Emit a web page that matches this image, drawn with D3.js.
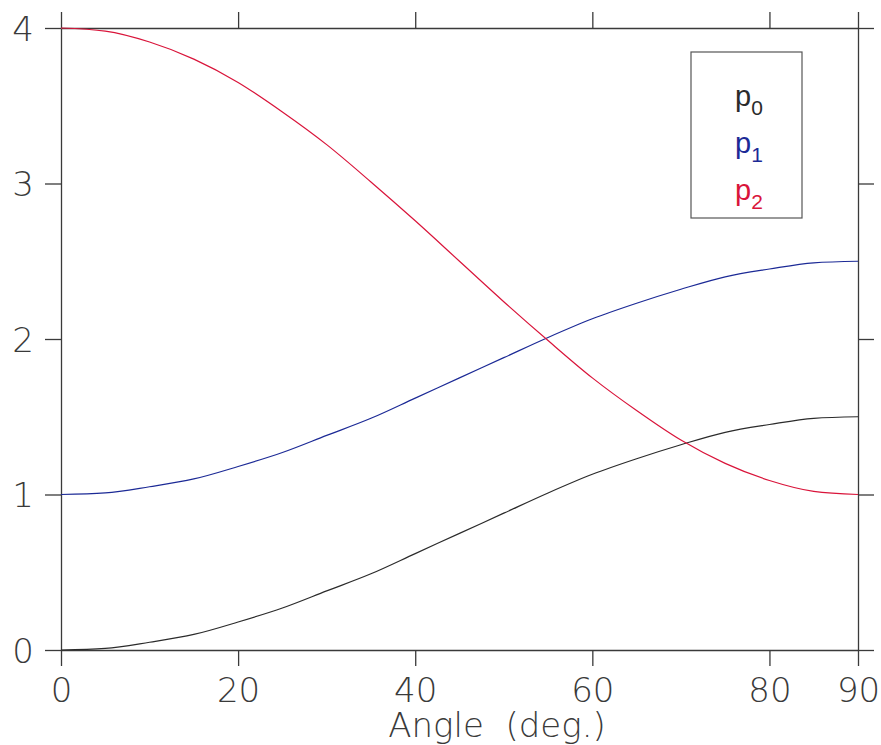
<!DOCTYPE html>
<html>
<head>
<meta charset="utf-8">
<script src="https://cdn.jsdelivr.net/npm/d3@7"></script>
<style>
  html, body { margin: 0; padding: 0; background: #fff; }
  svg { display: block; }
  .tick-label { font-family: "DejaVu Sans", sans-serif; font-weight: 200; fill: #3a3a3a; }
  .legend-label { font-family: "Liberation Sans", Arial, sans-serif; }
</style>
</head>
<body>
<svg id="chart" width="881" height="745"></svg>
<script>
// Angle in degrees, sampled every 5°
const angles = [0, 5, 10, 15, 20, 25, 30, 35, 40, 45, 50, 55, 60, 65, 70, 75, 80, 85, 90];
const p0 = [0.00, 0.01, 0.05, 0.10, 0.18, 0.27, 0.38, 0.49, 0.62, 0.75, 0.88, 1.01, 1.13, 1.23, 1.32, 1.40, 1.45, 1.49, 1.50];
const p1 = [1.00, 1.01, 1.05, 1.10, 1.18, 1.27, 1.38, 1.49, 1.62, 1.75, 1.88, 2.01, 2.13, 2.23, 2.32, 2.40, 2.45, 2.49, 2.50];
const p2 = [4.00, 3.98, 3.91, 3.80, 3.65, 3.46, 3.25, 3.01, 2.76, 2.50, 2.24, 1.99, 1.75, 1.54, 1.35, 1.20, 1.09, 1.02, 1.00];

const seriesNames = ["p", "p", "p"];
const seriesSubs = ["0", "1", "2"];
const seriesColors = ["#2b2b2b", "#1c2a96", "#d9143a"];
const seriesValues = [p0, p1, p2];

const xTicks = [0, 20, 40, 60, 80, 90];
const yTicks = [0, 1, 2, 3, 4];
const xTitle = "Angle  (deg.)";

const svg = d3.select("#chart");
const plotLeft = 61, plotRight = 858, plotTop = 28, plotBottom = 650;

const x = d3.scaleLinear().domain([0, 90]).range([plotLeft, plotRight]);
const y = d3.scaleLinear().domain([0, 4]).range([plotBottom, plotTop]);

const axisColor = "#3a3a3a";
const tickLen = 16;

function styleAxis(g) {
  g.selectAll("path.domain").attr("stroke", axisColor).attr("stroke-width", 1.3);
  g.selectAll(".tick line").attr("stroke", axisColor).attr("stroke-width", 1.3);
}

// Bottom axis with labels
const gB = svg.append("g").attr("transform", `translate(0,${plotBottom})`)
  .call(d3.axisBottom(x).tickValues(xTicks).tickSize(tickLen).tickSizeOuter(0).tickFormat(d3.format("d")));
styleAxis(gB);
gB.selectAll(".tick text").attr("class", "tick-label").attr("font-size", 34)
  .attr("dy", null).attr("y", 52).attr("fill", axisColor);

// Top axis (ticks only)
const gT = svg.append("g").attr("transform", `translate(0,${plotTop})`)
  .call(d3.axisTop(x).tickValues(xTicks).tickSize(tickLen).tickSizeOuter(0).tickFormat(""));
styleAxis(gT);

// Left axis with labels
const gL = svg.append("g").attr("transform", `translate(${plotLeft},0)`)
  .call(d3.axisLeft(y).tickValues(yTicks).tickSize(tickLen).tickSizeOuter(0).tickFormat(d3.format("d")));
styleAxis(gL);
gL.selectAll(".tick text").attr("class", "tick-label").attr("font-size", 34)
  .attr("x", -27).attr("dy", "0.36em").attr("fill", axisColor);

// Right axis (ticks only)
const gR = svg.append("g").attr("transform", `translate(${plotRight},0)`)
  .call(d3.axisRight(y).tickValues(yTicks).tickSize(tickLen).tickSizeOuter(0).tickFormat(""));
styleAxis(gR);

// Axis title
svg.append("text").attr("class", "tick-label")
  .attr("x", 497).attr("y", 737)
  .attr("text-anchor", "middle").attr("font-size", 34)
  .attr("xml:space", "preserve").style("white-space", "pre")
  .text(xTitle);

// Curves
const line = d3.line()
  .x((d, i) => x(angles[i]))
  .y(d => y(d))
  .curve(d3.curveMonotoneX);

seriesValues.forEach((vals, k) => {
  svg.append("path").datum(vals)
    .attr("d", line)
    .attr("fill", "none")
    .attr("stroke", seriesColors[k])
    .attr("stroke-width", 1.2);
});

// Legend
const lg = svg.append("g");
lg.append("rect").attr("x", 691).attr("y", 52).attr("width", 111).attr("height", 166)
  .attr("fill", "#fff").attr("stroke", "#555").attr("stroke-width", 1.2);
seriesNames.forEach((name, k) => {
  const t = lg.append("text").attr("class", "legend-label")
    .attr("x", 735).attr("y", 106 + k * 47)
    .attr("font-size", 29).attr("fill", seriesColors[k]);
  t.append("tspan").text(name);
  t.append("tspan").attr("font-size", 21).attr("dy", 9).text(seriesSubs[k]);
});
</script>
</body>
</html>
